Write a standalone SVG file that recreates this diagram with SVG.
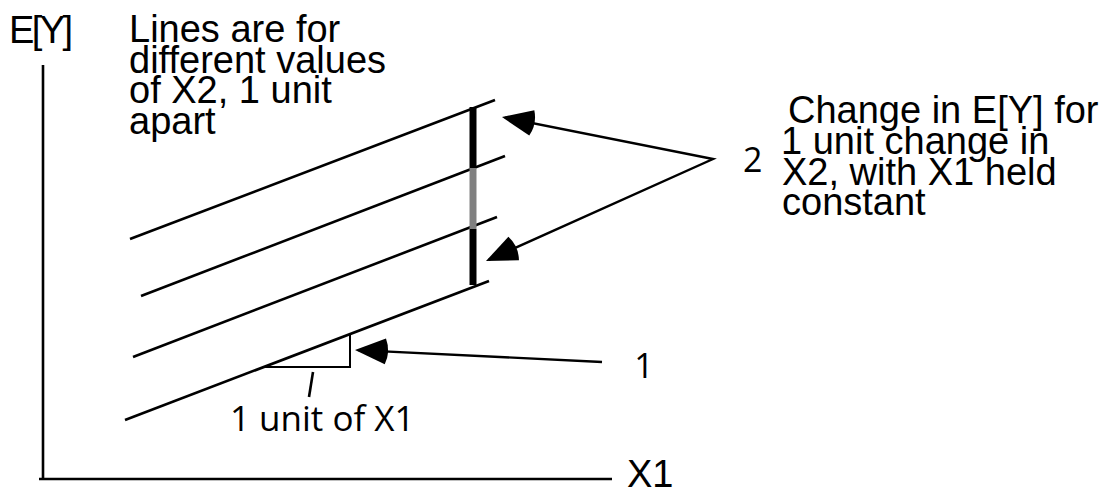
<svg xmlns="http://www.w3.org/2000/svg" width="1114" height="491" viewBox="0 0 1114 491">
  <style>
    .t { font-family: "Liberation Sans", Arial, sans-serif; font-size: 38px; fill: #000; }
    .o { font-family: "Open Sans", "Noto Sans", sans-serif; font-size: 34px; fill: #000; }
    .ax { stroke: #000; stroke-width: 2.6; fill: none; }
    .reg { stroke: #000; stroke-width: 2.6; fill: none; }
    .con { stroke: #000; stroke-width: 2.4; fill: none; stroke-linejoin: miter; }
    .thin { stroke: #000; stroke-width: 2; fill: none; }
  </style>
  <defs>
    <marker id="wedge" markerUnits="userSpaceOnUse" markerWidth="44" markerHeight="44" viewBox="-38 -22 44 44" refX="-3" refY="0" orient="auto-start-reverse" overflow="visible">
      <path d="M0,0 L-30.4,-12.9 A33,33 0 0 0 -30.4,12.9 Z" fill="#000"/>
    </marker>
  </defs>

  <rect width="1114" height="491" fill="#fff"/>

  <g id="axes">
    <line class="ax" x1="43" y1="65" x2="43" y2="479"/>
    <line class="ax" x1="39" y1="479" x2="612" y2="479"/>
    <text class="t" x="9" y="43" textLength="64" lengthAdjust="spacing">E[Y]</text>
    <text class="t" x="627" y="487">X1</text>
  </g>

  <g id="legend-note">
    <text class="t" x="129" y="42">Lines are for</text>
    <text class="t" x="129" y="72.7">different values</text>
    <text class="t" x="129" y="103.4">of X2, 1 unit</text>
    <text class="t" x="129" y="134.1">apart</text>
  </g>

  <g id="regression-lines">
    <line class="reg" x1="130" y1="239" x2="495" y2="100"/>
    <line class="reg" x1="141" y1="296" x2="505" y2="156"/>
    <line class="reg" x1="133" y1="357" x2="497" y2="217"/>
    <line class="reg" x1="125" y1="420" x2="489" y2="281"/>
  </g>

  <g id="change-bar">
    <line x1="473" y1="107" x2="473" y2="168" stroke="#000" stroke-width="7"/>
    <line x1="473" y1="168" x2="473" y2="229" stroke="#808080" stroke-width="7"/>
    <line x1="473" y1="229" x2="473" y2="285" stroke="#000" stroke-width="7"/>
  </g>

  <g id="slope-triangle">
    <polyline class="thin" points="264,367 350,367 350,334"/>
    <line class="reg" x1="313" y1="372" x2="309" y2="397"/>
    <text class="o" x="230" y="431" style="font-size:35px">1 unit of X1</text>
  </g>

  <g id="label-1">
    <text class="o" x="644" y="378" text-anchor="middle">1</text>
  </g>

  <g id="label-2">
    <text class="o" x="743" y="172">2</text>
  </g>

  <g id="description">
    <text class="t" x="788" y="123.3">Change in E[Y] for</text>
    <text class="t" x="781" y="154">1 unit change in</text>
    <text class="t" x="782" y="184.7">X2, with X1 held</text>
    <text class="t" x="782" y="215.4">constant</text>
  </g>

  <g id="connectors">
    <path class="con" d="M504.9,117.6 L713,159 L488.7,259.8" marker-start="url(#wedge)" marker-end="url(#wedge)"/>
    <path class="con" d="M602,362 L358,350.1" marker-end="url(#wedge)"/>
  </g>
</svg>
